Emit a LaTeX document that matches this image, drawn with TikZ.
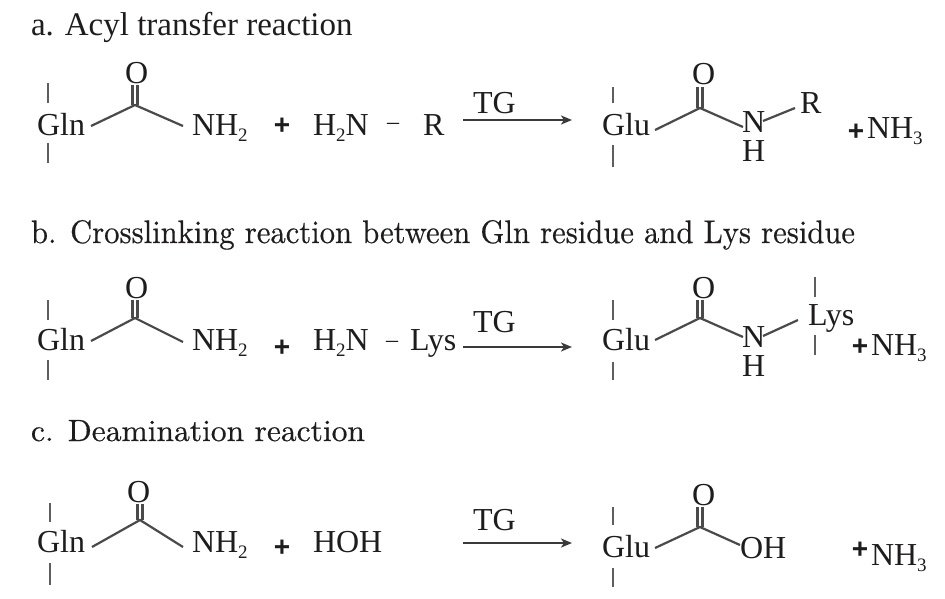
\documentclass[tikz,border=0pt]{standalone}
\usepackage{fontspec}
\usepackage{graphicx}
\usetikzlibrary{arrows.meta}
\newfontfamily\chemfont{Liberation Serif}
\newfontfamily\plusfont{Liberation Sans}
\newfontfamily\ttlfont{lmroman10-regular.otf}[FakeBold=0.45]
\definecolor{ink}{HTML}{1E1C1C}
\definecolor{bondgray}{HTML}{4A4A4A}
\definecolor{stubgray}{HTML}{5E5E5E}
\definecolor{arrowgray}{HTML}{3A3A3A}
\newcommand\chsub[1]{\raisebox{-6pt}{\fontsize{19}{19}\selectfont #1}}
\begin{document}
\begin{tikzpicture}[x=1pt,y=-1pt,
  txt/.style={inner sep=0pt, outer sep=0pt, anchor=base west, text=ink, font=\chemfont\fontsize{32}{38}\selectfont},
  pl/.style={inner sep=0pt, outer sep=0pt, anchor=center, text=ink, font=\plusfont\bfseries\fontsize{28}{30}\selectfont},
  dsh/.style={inner sep=0pt, outer sep=0pt, anchor=center, text=ink, font=\chemfont\fontsize{24}{30}\selectfont},
  ttl/.style={inner sep=0pt, outer sep=0pt, anchor=base west, text=ink},
  bond/.style={draw=bondgray, line width=2.2pt},
  stub/.style={draw=stubgray, line width=2pt},
  rxn/.style={draw=arrowgray, line width=2.5pt, -{Stealth[length=11pt,width=9pt,inset=3pt]}},
]
\path[use as bounding box] (0,0) rectangle (945,598);

% ---------- titles ----------
\node[ttl, font=\chemfont\fontsize{33}{40}\selectfont] (ta) at (31,35) {a. Acyl transfer reaction};
\node[ttl] (tb) at (31,243) {\resizebox{824pt}{23pt}{\ttlfont\fontsize{30}{36}\selectfont b. Crosslinking reaction between Gln residue and Lys residue}};
\node[ttl] (tc) at (31,441) {\resizebox{334pt}{21pt}{\ttlfont\fontsize{30}{36}\selectfont c. Deamination reaction}};

% ================= row a =================
\node[txt] (a-gln) at (37,135) {Gln};
\draw[stub] (48,83) coordinate (a-s1) -- (48,103) coordinate (a-s2);
\draw[stub] (48,143) coordinate (a-s3) -- (48,163) coordinate (a-s4);
\coordinate (a-c) at (135,105);
\coordinate (a-b1) at (91,126);
\coordinate (a-b2) at (183,126);
\node[txt] (a-o) at (125,83) {O};
\coordinate (a-ot) at (135,85);
\draw[bond] (a-b1) -- (a-c) -- (a-b2);
\draw[bond] ([xshift=-2.5pt]a-c) -- ([xshift=-2.5pt]a-ot);
\draw[bond] ([xshift=2.5pt]a-c) -- ([xshift=2.5pt]a-ot);
\node[txt] (a-nh2) at (192,135) {NH\chsub{2}};
\node[pl] (a-p1) at (282,126) {+};
\node[txt] (a-h2n) at (313,135) {H\chsub{2}N};
\node[dsh] (a-dash) at (393,126) {–};
\node[txt] (a-r) at (423,135) {R};
\coordinate (a-ar1) at (463,120);
\coordinate (a-ar2) at (572,120);
\draw[rxn] (a-ar1) -- (a-ar2);
\node[txt] (a-tg) at (473,113) {TG};
\node[txt] (a-glu) at (602,135) {Glu};
\draw[stub] (613,87) coordinate (a-s5) -- (613,103) coordinate (a-s6);
\draw[stub] (613,145) coordinate (a-s7) -- (613,167) coordinate (a-s8);
\coordinate (a-c2) at (700,108);
\coordinate (a-b3) at (655,130);
\coordinate (a-b4) at (743,127);
\node[txt] (a-o2) at (692,84) {O};
\coordinate (a-ot2) at (700,87);
\draw[bond] (a-b3) -- (a-c2) -- (a-b4);
\draw[bond] ([xshift=-2.5pt]a-c2) -- ([xshift=-2.5pt]a-ot2);
\draw[bond] ([xshift=2.5pt]a-c2) -- ([xshift=2.5pt]a-ot2);
\node[txt] (a-n) at (742,132) {N};
\node[txt] (a-h) at (742,161) {H};
\coordinate (a-b5) at (763,121);
\coordinate (a-b6) at (795,108);
\draw[bond] (a-b5) -- (a-b6);
\node[txt] (a-r2) at (800,113) {R};
\node[pl] (a-p2) at (856,132) {+};
\node[txt] (a-nh3) at (867,138) {NH\chsub{3}};

% ================= row b =================
\node[txt] (b-gln) at (37,350) {Gln};
\draw[stub] (48,300) coordinate (b-s1) -- (48,320) coordinate (b-s2);
\draw[stub] (48,360) coordinate (b-s3) -- (48,380) coordinate (b-s4);
\coordinate (b-c) at (135,318);
\coordinate (b-b1) at (91,341);
\coordinate (b-b2) at (183,342);
\node[txt] (b-o) at (125,298) {O};
\coordinate (b-ot) at (135,300);
\draw[bond] (b-b1) -- (b-c) -- (b-b2);
\draw[bond] ([xshift=-2.5pt]b-c) -- ([xshift=-2.5pt]b-ot);
\draw[bond] ([xshift=2.5pt]b-c) -- ([xshift=2.5pt]b-ot);
\node[txt] (b-nh2) at (192,350) {NH\chsub{2}};
\node[pl] (b-p1) at (282,348) {+};
\node[txt] (b-h2n) at (313,350) {H\chsub{2}N};
\node[dsh] (b-dash) at (392,344) {–};
\node[txt] (b-lys) at (410,350) {Lys};
\coordinate (b-ar1) at (463,347);
\coordinate (b-ar2) at (572,347);
\draw[rxn] (b-ar1) -- (b-ar2);
\node[txt] (b-tg) at (473,332) {TG};
\node[txt] (b-glu) at (602,350) {Glu};
\draw[stub] (613,300) coordinate (b-s5) -- (613,320) coordinate (b-s6);
\draw[stub] (613,362) coordinate (b-s7) -- (613,380) coordinate (b-s8);
\coordinate (b-c2) at (700,318);
\coordinate (b-b3) at (655,340);
\coordinate (b-b4) at (743,337);
\node[txt] (b-o2) at (692,298) {O};
\coordinate (b-ot2) at (700,300);
\draw[bond] (b-b3) -- (b-c2) -- (b-b4);
\draw[bond] ([xshift=-2.5pt]b-c2) -- ([xshift=-2.5pt]b-ot2);
\draw[bond] ([xshift=2.5pt]b-c2) -- ([xshift=2.5pt]b-ot2);
\node[txt] (b-n) at (742,347) {N};
\node[txt] (b-h) at (742,376) {H};
\coordinate (b-b5) at (763,336);
\coordinate (b-b6) at (798,320);
\draw[bond] (b-b5) -- (b-b6);
\node[txt] (b-lys2) at (808,325) {Lys};
\draw[stub] (815,277) coordinate (b-s9) -- (815,297) coordinate (b-s10);
\draw[stub] (815,335) coordinate (b-s11) -- (815,355) coordinate (b-s12);
\node[pl] (b-p2) at (860,347) {+};
\node[txt] (b-nh3) at (871,355) {NH\chsub{3}};

% ================= row c =================
\node[txt] (c-gln) at (37,552) {Gln};
\draw[stub] (50,503) coordinate (c-s1) -- (50,522) coordinate (c-s2);
\draw[stub] (50,563) coordinate (c-s3) -- (50,585) coordinate (c-s4);
\coordinate (c-c) at (140,520);
\coordinate (c-b1) at (92,547);
\coordinate (c-b2) at (183,547);
\node[txt] (c-o) at (127,502) {O};
\coordinate (c-ot) at (140,504);
\draw[bond] (c-b1) -- (c-c) -- (c-b2);
\draw[bond] ([xshift=-2.5pt]c-c) -- ([xshift=-2.5pt]c-ot);
\draw[bond] ([xshift=2.5pt]c-c) -- ([xshift=2.5pt]c-ot);
\node[txt] (c-nh2) at (192,552) {NH\chsub{2}};
\node[pl] (c-p1) at (282,548) {+};
\node[txt] (c-hoh) at (313,552) {HOH};
\coordinate (c-ar1) at (463,543);
\coordinate (c-ar2) at (572,543);
\draw[rxn] (c-ar1) -- (c-ar2);
\node[txt] (c-tg) at (473,530) {TG};
\node[txt] (c-glu) at (602,557) {Glu};
\draw[stub] (613,507) coordinate (c-s5) -- (613,525) coordinate (c-s6);
\draw[stub] (613,568) coordinate (c-s7) -- (613,587) coordinate (c-s8);
\coordinate (c-c2) at (700,527);
\coordinate (c-b3) at (655,548);
\coordinate (c-b4) at (740,545);
\node[txt] (c-o2) at (692,505) {O};
\coordinate (c-ot2) at (700,507);
\draw[bond] (c-b3) -- (c-c2) -- (c-b4);
\draw[bond] ([xshift=-2.5pt]c-c2) -- ([xshift=-2.5pt]c-ot2);
\draw[bond] ([xshift=2.5pt]c-c2) -- ([xshift=2.5pt]c-ot2);
\node[txt] (c-oh) at (740,558) {OH};
\node[pl] (c-p2) at (860,550) {+};
\node[txt] (c-nh3) at (871,565) {NH\chsub{3}};
\end{tikzpicture}
\end{document}
